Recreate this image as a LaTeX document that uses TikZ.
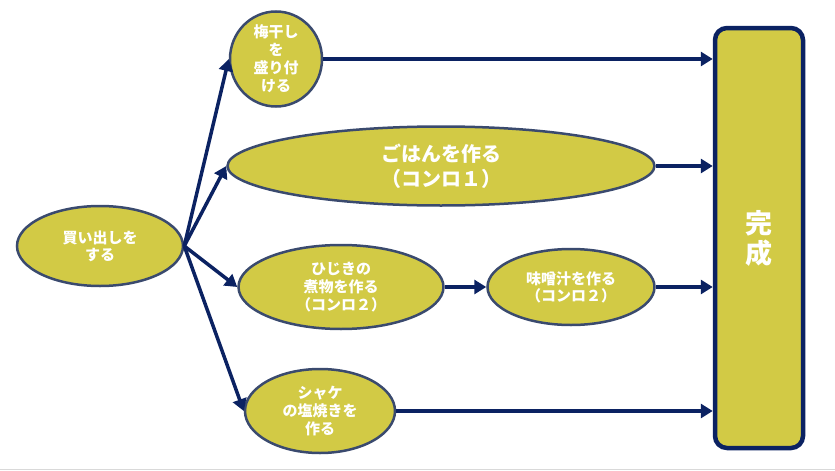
\documentclass[tikz,border=0pt]{standalone}
\usepackage{fontspec}
\usepackage{tikz}
\usetikzlibrary{shapes.geometric,arrows.meta}
\newfontfamily\jpfont{Noto Sans CJK JP}
\definecolor{taskfill}{HTML}{D2CA45}
\definecolor{taskline}{HTML}{3A4A6E}
\definecolor{linkblue}{HTML}{0B2262}

\begin{document}
\begin{tikzpicture}[x=1pt,y=-1pt,
    task/.style={ellipse,draw=taskline,line width=2.5pt,fill=taskfill,text=white,align=center,inner sep=0pt,
      font=\jpfont\bfseries\fontsize{15}{18}\selectfont},
    link/.style={draw=linkblue,line width=3.5pt,-{Triangle[length=12pt,width=14pt]}}]
            \useasboundingbox (0,0) rectangle (835,471);
            \node[task,minimum width=166,minimum height=80,font=\jpfont\bfseries\fontsize{15}{17}\selectfont] at (100,246) (kaidashi) {買い出しを\\する};
            \node[task,minimum width=92,minimum height=95,inner sep=-2pt] at (276,59) (umeboshi) {梅干し\\を\\盛り付\\ける};
            \node[task,minimum width=427,minimum height=79,font=\jpfont\bfseries\fontsize{20}{25}\selectfont] at (441,166) (gohan) {ごはんを作る\\（コンロ１）};
            \node[task,minimum width=205,minimum height=84] at (341,287) (hijiki) {ひじきの\\煮物を作る\\（コンロ２）};
            \node[task,minimum width=167,minimum height=76,font=\jpfont\bfseries\fontsize{15}{17}\selectfont] at (571,287) (miso) {味噌汁を作る\\（コンロ２）};
            \node[task,minimum width=150,minimum height=84] at (320,411) (shake) {シャケ\\の塩焼きを\\作る};
            \node[draw=linkblue,line width=4.5pt,fill=taskfill,rounded corners=12pt,minimum width=88,minimum height=420,
              text=white,align=center,font=\jpfont\bfseries\fontsize{27}{30}\selectfont] at (759,238) (kansei) {完\\成};
            \draw[link] (kaidashi.east) -- (umeboshi.west);
            \draw[link] (kaidashi.east) -- (gohan.west);
            \draw[link] (kaidashi.east) -- (hijiki.west);
            \draw[link] (kaidashi.east) -- (shake.west);
            \draw[link] (umeboshi.east) -- (kansei.west |- umeboshi.east);
            \draw[link] (gohan.east) -- (kansei.west |- gohan.east);
            \draw[link] (hijiki.east) -- (miso.west);
            \draw[link] (miso.east) -- (kansei.west |- miso.east);
            \draw[link] (shake.east) -- (kansei.west |- shake.east);
            \draw[black!15,line width=1pt] (0,469.5) -- (835,469.5);
        \end{tikzpicture}
\end{document}
